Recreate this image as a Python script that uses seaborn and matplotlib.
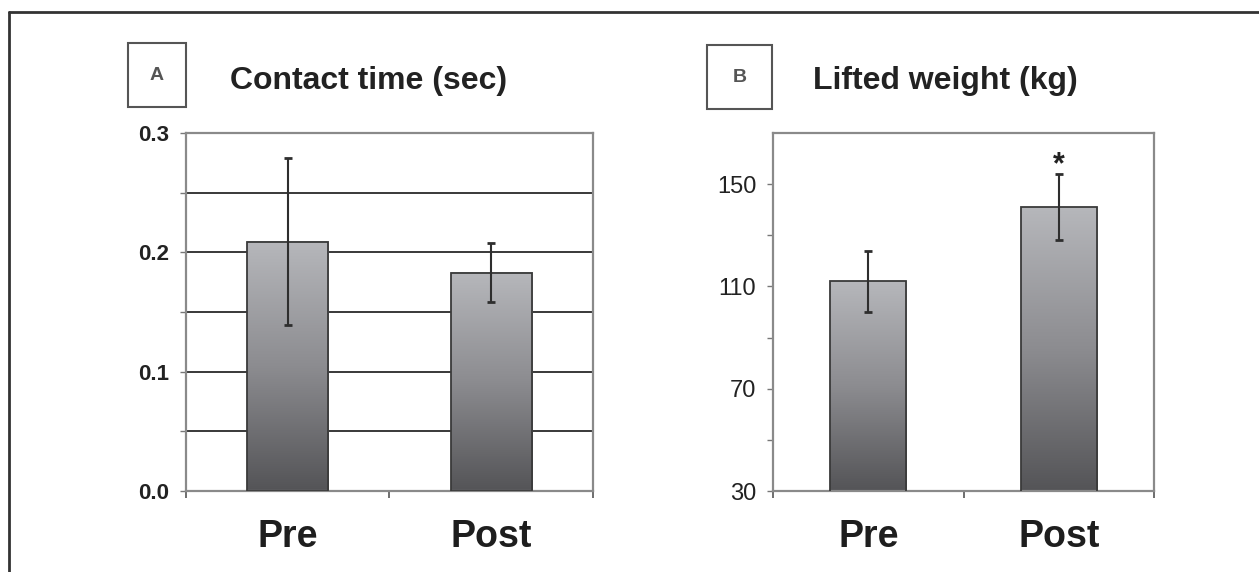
import numpy as np
import pandas as pd
import seaborn as sns
import matplotlib.pyplot as plt
from matplotlib.colors import LinearSegmentedColormap
from matplotlib.patches import Rectangle
from matplotlib.lines import Line2D

groups = ["Pre", "Post"]
contact_mean = [0.209, 0.183]
contact_err = [0.070, 0.025]
weight_mean = [112, 141]
weight_err = [12, 13]

sns.set_style("white")
plt.rcParams["font.family"] = ["Liberation Sans", "DejaVu Sans"]

fig = plt.figure(figsize=(12.59, 5.72), dpi=100)
axA = fig.add_axes([0.1477, 0.1416, 0.3233, 0.6259])
axB = fig.add_axes([0.614, 0.1416, 0.3026, 0.6259])

grad = LinearSegmentedColormap.from_list("bar", ["#545457", "#8c8c90", "#b6b7bb"])


def draw_panel(ax, means, errs, ylim):
    df = pd.DataFrame({"group": groups, "value": means})
    sns.barplot(data=df, x="group", y="value", ax=ax, width=0.4, color="#999999",
                edgecolor="#3a3a3a", linewidth=1.3)
    # gradient fill inside each bar
    g = np.linspace(0, 1, 256).reshape(-1, 1)
    for p in ax.patches:
        x, y, w, h = p.get_x(), p.get_y(), p.get_width(), p.get_height()
        y0 = ylim[0]
        ax.imshow(g, extent=(x, x + w, y0, y + h), origin="lower", cmap=grad,
                  aspect="auto", zorder=2)
        p.set_facecolor("none")
        p.set_zorder(3)
    ax.errorbar(range(len(groups)), means, yerr=errs, fmt="none", ecolor="#2e2e2e",
                elinewidth=1.5, capsize=3, capthick=2, zorder=4)
    ax.set_xlim(-0.5, 1.5)
    ax.set_ylim(*ylim)
    ax.set_xlabel("")
    ax.set_ylabel("")
    for s in ax.spines.values():
        s.set_visible(True)
        s.set_color("#8a8a8a")
        s.set_linewidth(1.6)
    ax.tick_params(axis="x", which="major", length=0, pad=20, labelsize=27,
                   labelcolor="#1e1e1e")
    for lbl in ax.get_xticklabels():
        lbl.set_fontweight("bold")
    ax.set_xticks([-0.5, 0.5, 1.5], minor=True)
    ax.tick_params(axis="x", which="minor", bottom=True, length=5, width=1.2, color="#555555")
    ax.tick_params(axis="y", left=True, length=4, width=1, color="#777777",
                   labelcolor="#222222", pad=8)


draw_panel(axA, contact_mean, contact_err, (0, 0.3))
axA.set_yticks(np.arange(0, 0.31, 0.05))
axA.set_yticklabels(["0.0", "", "0.1", "", "0.2", "", "0.3"], fontsize=16, fontweight="bold")
axA.yaxis.grid(True, color="#2a2a2a", linewidth=1.3)
axA.set_axisbelow(True)

draw_panel(axB, weight_mean, weight_err, (30, 170))
axB.set_yticks(np.arange(30, 151, 20))
axB.set_yticklabels(["30", "", "70", "", "110", "", "150"], fontsize=17)
axB.text(1, weight_mean[1] + weight_err[1] - 2.5, "*", ha="center", va="bottom",
         fontsize=22, fontweight="bold", color="#222222")

# titles and panel letter boxes
fig.text(0.1827, 0.858, "Contact time (sec)", fontsize=23, fontweight="bold",
         va="center", color="#222222")
fig.text(0.6458, 0.858, "Lifted weight (kg)", fontsize=23, fontweight="bold",
         va="center", color="#222222")
fig.add_artist(Rectangle((0.1017, 0.8129), 0.0461, 0.1119, transform=fig.transFigure,
                         fill=False, edgecolor="#555555", linewidth=1.5))
fig.add_artist(Rectangle((0.5616, 0.8094), 0.0516, 0.1119, transform=fig.transFigure,
                         fill=False, edgecolor="#555555", linewidth=1.5))
fig.text(0.1017 + 0.0461 / 2, 0.8129 + 0.1119 / 2, "A", ha="center", va="center",
         fontsize=14, fontweight="bold", color="#555555")
fig.text(0.5616 + 0.0516 / 2, 0.8094 + 0.1119 / 2, "B", ha="center", va="center",
         fontsize=14, fontweight="bold", color="#555555")

# outer frame (left and top edges)
fig.add_artist(Line2D([9 / 1259, 9 / 1259], [0, 1 - 12 / 572], transform=fig.transFigure,
                      color="#333333", linewidth=2))
fig.add_artist(Line2D([9 / 1259, 1], [1 - 12 / 572, 1 - 12 / 572], transform=fig.transFigure,
                      color="#333333", linewidth=2))

fig.savefig("out.png", dpi=100)
